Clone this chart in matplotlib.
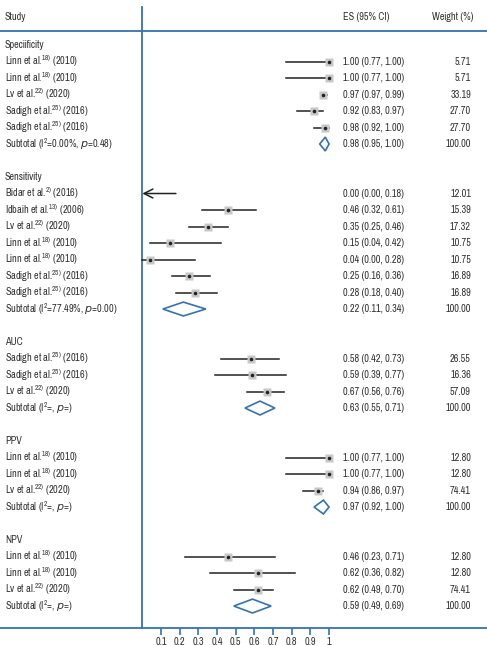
import matplotlib
matplotlib.use("Agg")
import matplotlib.pyplot as plt
from matplotlib import font_manager as fm

# ---- data ----
spec_labels = ['Linn et al.$^{18)}$ (2010)', 'Linn et al.$^{18)}$ (2010)', 'Lv et al.$^{22)}$ (2020)',
               'Sadigh et al.$^{25)}$ (2016)', 'Sadigh et al.$^{25)}$ (2016)']
spec_es = [1.00, 1.00, 0.97, 0.92, 0.98]
spec_lo = [0.77, 0.77, 0.97, 0.83, 0.92]
spec_hi = [1.00, 1.00, 0.99, 0.97, 1.00]
spec_w = [5.71, 5.71, 33.19, 27.70, 27.70]

sens_labels = ['Bidar et al.$^{2)}$ (2016)', 'Idbaih et al.$^{13)}$ (2006)', 'Lv et al.$^{22)}$ (2020)',
               'Linn et al.$^{18)}$ (2010)', 'Linn et al.$^{18)}$ (2010)',
               'Sadigh et al.$^{25)}$ (2016)', 'Sadigh et al.$^{25)}$ (2016)']
sens_es = [0.00, 0.46, 0.35, 0.15, 0.04, 0.25, 0.28]
sens_lo = [0.00, 0.32, 0.25, 0.04, 0.00, 0.16, 0.18]
sens_hi = [0.18, 0.61, 0.46, 0.42, 0.28, 0.36, 0.40]
sens_w = [12.01, 15.39, 17.32, 10.75, 10.75, 16.89, 16.89]

auc_labels = ['Sadigh et al.$^{25)}$ (2016)', 'Sadigh et al.$^{25)}$ (2016)', 'Lv et al.$^{22)}$ (2020)']
auc_es = [0.58, 0.59, 0.67]
auc_lo = [0.42, 0.39, 0.56]
auc_hi = [0.73, 0.77, 0.76]
auc_w = [26.55, 16.36, 57.09]

ppv_labels = ['Linn et al.$^{18)}$ (2010)', 'Linn et al.$^{18)}$ (2010)', 'Lv et al.$^{22)}$ (2020)']
ppv_es = [1.00, 1.00, 0.94]
ppv_lo = [0.77, 0.77, 0.86]
ppv_hi = [1.00, 1.00, 0.97]
ppv_w = [12.80, 12.80, 74.41]

npv_labels = ['Linn et al.$^{18)}$ (2010)', 'Linn et al.$^{18)}$ (2010)', 'Lv et al.$^{22)}$ (2020)']
npv_es = [0.46, 0.62, 0.62]
npv_lo = [0.23, 0.36, 0.49]
npv_hi = [0.71, 0.82, 0.70]
npv_w = [12.80, 12.80, 74.41]

group_names = ['Speciificity', 'Sensitivity', 'AUC', 'PPV', 'NPV']
sub_labels = ['Subtotal (I$^2$=0.00%, $p$=0.48)', 'Subtotal (I$^2$=77.49%, $p$=0.00)',
              'Subtotal (I$^2$=, $p$=)', 'Subtotal (I$^2$=, $p$=)', 'Subtotal (I$^2$=, $p$=)']
sub_es = [0.98, 0.22, 0.63, 0.97, 0.59]
sub_lo = [0.95, 0.11, 0.55, 0.92, 0.49]
sub_hi = [1.00, 0.34, 0.71, 1.00, 0.69]

xticks = [0.1, 0.2, 0.3, 0.4, 0.5, 0.6, 0.7, 0.8, 0.9, 1.0]
xtick_labels = ['0.1', '0.2', '0.3', '0.4', '0.5', '0.6', '0.7', '0.8', '0.9', '1']

groups = [
    (spec_labels, spec_es, spec_lo, spec_hi, spec_w),
    (sens_labels, sens_es, sens_lo, sens_hi, sens_w),
    (auc_labels, auc_es, auc_lo, auc_hi, auc_w),
    (ppv_labels, ppv_es, ppv_lo, ppv_hi, ppv_w),
    (npv_labels, npv_es, npv_lo, npv_hi, npv_w),
]

fig = plt.figure(figsize=(4.87, 6.45), dpi=100)
renderer = fig.canvas.get_renderer()

# ---- pick the installed narrow sans whose width/size is closest to the original's ----
installed = {f.name for f in fm.fontManager.ttflist}
candidates = ['Roboto Condensed', 'Archivo Narrow', 'PT Sans Narrow', 'Pragati Narrow',
              'Fira Sans Condensed', 'Fira Sans Extra Condensed', 'Barlow Semi Condensed',
              'Barlow Condensed', 'IBM Plex Sans Condensed', 'Encode Sans Condensed',
              'Encode Sans Semi Condensed', 'Sofia Sans Condensed', 'Sofia Sans Semi Condensed',
              'Asap Condensed', 'Open Sans Condensed', 'Liberation Sans Narrow']
target = 62 / (8.0 * 100 / 72)   # ES entry width over em size in the original
best, best_err = 'Roboto Condensed', 1e9
for c in candidates:
    if c not in installed:
        continue
    t = fig.text(0, 0, '1.00 (0.77, 1.00)', fontsize=10, family=c)
    ratio = t.get_window_extent(renderer).width / (10 * 100 / 72)
    t.remove()
    if abs(ratio - target) < best_err:
        best, best_err = c, abs(ratio - target)
font = best

plt.rcParams['font.family'] = [font, 'DejaVu Sans']
plt.rcParams['mathtext.fontset'] = 'custom'
plt.rcParams['mathtext.rm'] = font
plt.rcParams['mathtext.it'] = 'DejaVu Sans:italic'
blue = '#3473b0'
txt = '#333333'

probe = fig.text(0, 0, '1.00 (0.77, 1.00)', fontsize=10)
wpx = probe.get_window_extent(renderer).width
probe.remove()
fs = max(7.4, min(8.4, 10 * 62 / wpx))

ax = fig.add_axes([0, 17 / 645, 1, 628 / 645])
ax.set_xlim(-0.762, 1.846)
ax.set_ylim(35.33, -2.727)
for s in ['top', 'left', 'right']:
    ax.spines[s].set_visible(False)
ax.spines['bottom'].set_color(blue)
ax.spines['bottom'].set_linewidth(1.3)
ax.set_yticks([])
ax.set_xticks(xticks)
ax.set_xticklabels(xtick_labels)
ax.tick_params(axis='x', colors=blue, labelcolor=txt, length=5.2, width=1.2,
               pad=1.5, labelsize=fs)

tr = ax.get_yaxis_transform()  # x in axes fraction, y in data
x_lab, x_es, x_w = 0.0103, 0.704, 0.967

# header
ax.text(x_lab, -1.70, 'Study', transform=tr, ha='left', va='center', fontsize=fs, color=txt)
ax.text(x_es, -1.70, 'ES (95% CI)', transform=tr, ha='left', va='center', fontsize=fs, color=txt)
ax.text(0.971, -1.70, 'Weight (%)', transform=tr, ha='right', va='center', fontsize=fs, color=txt)
ax.plot([0, 1], [-0.85, -0.85], transform=tr, color=blue, lw=1.3, clip_on=False)
ax.plot([0, 0], [-2.30, 35.33], color=blue, lw=1.3, clip_on=False)

row = 0
for gi, (labels, es, lo, hi, w) in enumerate(groups):
    ax.text(x_lab, row, group_names[gi], transform=tr, ha='left', va='center', fontsize=fs, color=txt)
    row += 1
    for lab, e, l, h, wt in zip(labels, es, lo, hi, w):
        ax.text(x_lab, row, lab, transform=tr, ha='left', va='center', fontsize=fs, color=txt)
        ax.text(x_es, row, f'{e:.2f} ({l:.2f}, {h:.2f})', transform=tr, ha='left',
                va='center', fontsize=fs, color=txt)
        ax.text(x_w, row, f'{wt:.2f}', transform=tr, ha='right', va='center', fontsize=fs, color=txt)
        if e <= 0 and l <= 0:
            ax.annotate('', xy=(l, row), xytext=(h, row),
                        arrowprops=dict(arrowstyle='->', color='#222222', lw=1.1,
                                        mutation_scale=16, shrinkA=0, shrinkB=0))
        else:
            ax.plot([l, h], [row, row], color='#222222', lw=1.1, zorder=2)
            ax.plot(e, row, marker='s', ms=5.2, color='#c8c8c8', mec='none', zorder=3)
            ax.plot(e, row, marker='o', ms=2.6, color='#222222', mec='none', zorder=4)
        row += 1
    # subtotal
    ax.text(x_lab, row, sub_labels[gi], transform=tr, ha='left', va='center', fontsize=fs, color=txt)
    ax.text(x_es, row, f'{sub_es[gi]:.2f} ({sub_lo[gi]:.2f}, {sub_hi[gi]:.2f})', transform=tr,
            ha='left', va='center', fontsize=fs, color=txt)
    ax.text(x_w, row, '100.00', transform=tr, ha='right', va='center', fontsize=fs, color=txt)
    ax.fill([sub_lo[gi], sub_es[gi], sub_hi[gi], sub_es[gi]],
            [row, row - 0.42, row, row + 0.42], facecolor='none', edgecolor=blue, lw=1.2)
    row += 2

fig.savefig('out.png', dpi=100)
